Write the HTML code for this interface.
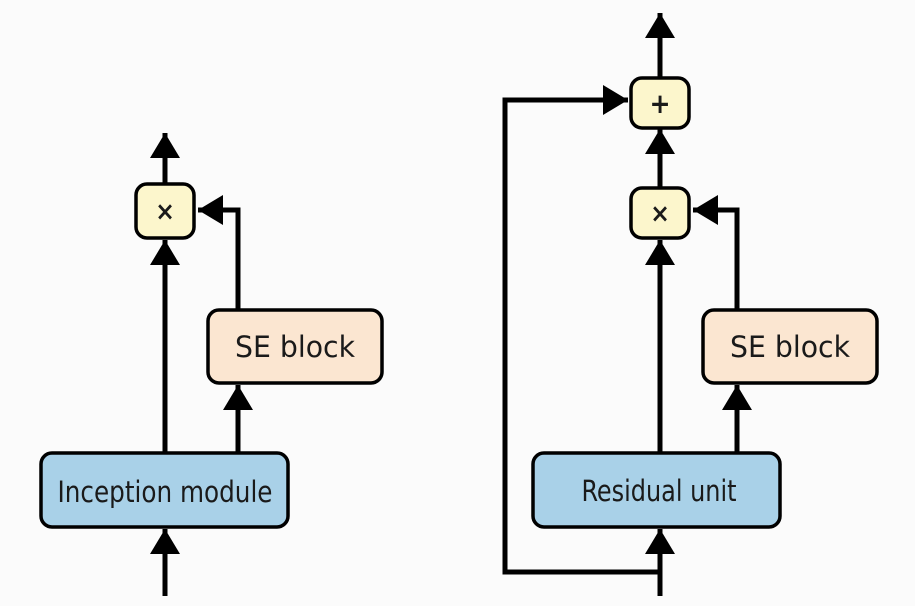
<!DOCTYPE html>
<html><head><meta charset="utf-8"><style>
html,body{margin:0;padding:0;background:#fbfbfb;}
svg{display:block}
text{font-family:"DejaVu Sans Condensed","DejaVu Sans","Liberation Sans",sans-serif;fill:#1a1a1a}
</style></head><body>
<svg width="915" height="606" viewBox="0 0 915 606" xmlns="http://www.w3.org/2000/svg">
<defs>
<marker id="a" markerWidth="6" markerHeight="6" refX="5" refY="3" orient="auto" markerUnits="strokeWidth">
<path d="M0,0 L5,3 L0,6 Z" fill="#000"/></marker>
</defs>
<g stroke="#000" stroke-width="5" fill="none" stroke-linejoin="miter">
<path d="M165 184 V133" marker-end="url(#a)"/>
<path d="M165 453 V240" marker-end="url(#a)"/>
<path d="M238 310 V210 H198" marker-end="url(#a)"/>
<path d="M238 453 V385" marker-end="url(#a)"/>
<path d="M165 596 V529" marker-end="url(#a)"/>
<path d="M660 78 V13" marker-end="url(#a)"/>
<path d="M660 188 V129" marker-end="url(#a)"/>
<path d="M660 453 V240" marker-end="url(#a)"/>
<path d="M737 310 V210 H693" marker-end="url(#a)"/>
<path d="M737 453 V385" marker-end="url(#a)"/>
<path d="M660 596 V529" marker-end="url(#a)"/>
<path d="M660 572 H505 V100 H628" marker-end="url(#a)"/>
</g>
<g stroke="#000" stroke-width="3.5">
<rect x="136" y="184" width="58" height="54" rx="11" fill="#fcf6cc"/>
<rect x="208" y="310" width="174" height="73" rx="11" fill="#fbe6d1"/>
<rect x="41" y="453" width="247" height="74" rx="11" fill="#a9d1e8"/>
<rect x="631" y="78" width="58" height="50" rx="11" fill="#fcf6cc"/>
<rect x="631" y="188" width="58" height="50" rx="11" fill="#fcf6cc"/>
<rect x="703" y="310" width="174" height="73" rx="11" fill="#fbe6d1"/>
<rect x="533" y="453" width="247" height="74" rx="11" fill="#a9d1e8"/>
</g>
<g text-anchor="middle" font-size="29">
<text x="295" y="357" textLength="120" lengthAdjust="spacingAndGlyphs">SE block</text>
<text x="165" y="502" textLength="215" lengthAdjust="spacingAndGlyphs">Inception module</text>
<text x="790" y="357" textLength="120" lengthAdjust="spacingAndGlyphs">SE block</text>
<text x="659" y="501" textLength="155" lengthAdjust="spacingAndGlyphs">Residual unit</text>
<text x="165" y="220" font-size="26" font-weight="bold">×</text>
<text x="660" y="222" font-size="26" font-weight="bold">×</text>
<text x="660" y="113" font-size="28" font-weight="bold">+</text>
</g>
</svg>
</body></html>
